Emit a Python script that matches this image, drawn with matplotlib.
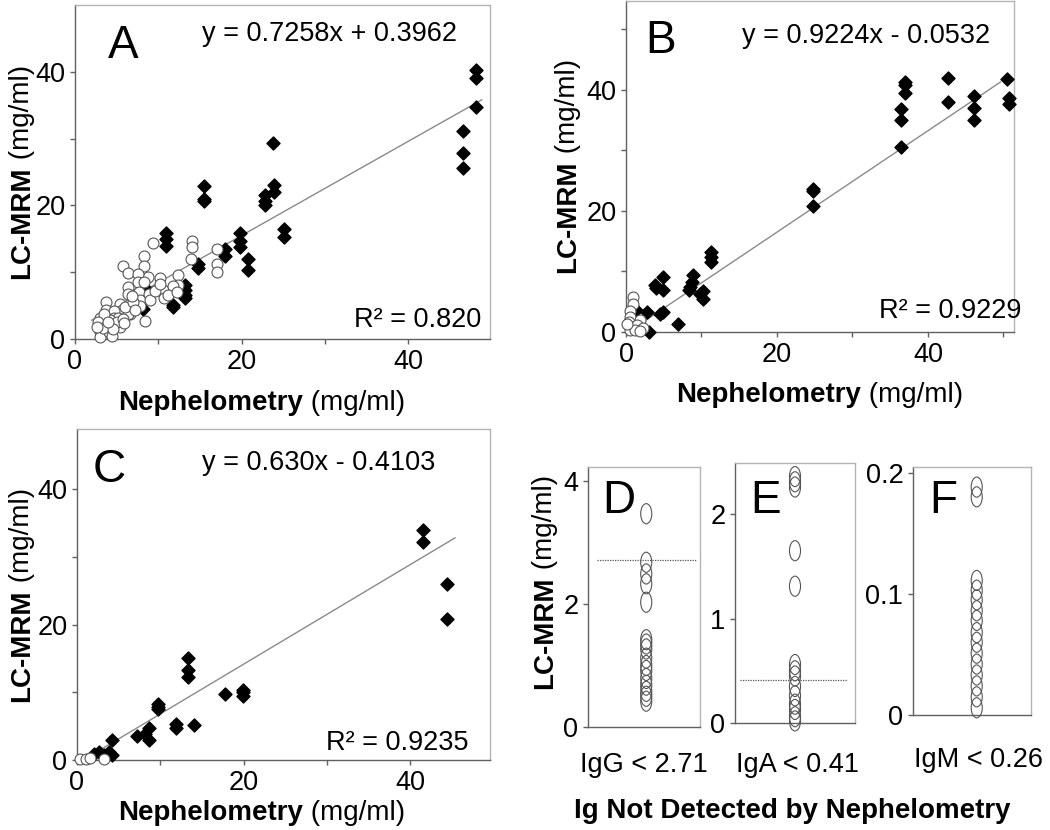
import numpy as np
import matplotlib.pyplot as plt
from matplotlib.markers import MarkerStyle
from matplotlib.transforms import Affine2D

plt.rcParams['font.family'] = ['Liberation Sans', 'DejaVu Sans']
plt.rcParams['font.size'] = 19

# ---- Panel A (IgG) ----
a_dia_x = [48.1, 48.1, 48.1, 46.6, 46.6, 46.6, 23.8, 23.9, 23.9, 22.8, 22.8, 22.8,
           15.5, 15.5, 15.5, 25.1, 25.1, 19.8, 19.8, 19.8, 20.7, 20.7, 18.0, 18.0,
           14.7, 14.7, 10.9, 10.9, 10.9, 13.2, 13.2, 13.2, 13.2, 11.7, 11.7, 8.6, 8.1]
a_dia_y = [40.3, 39.0, 34.7, 31.2, 27.8, 25.6, 29.4, 23.0, 22.0, 21.6, 20.7, 20.1,
           22.9, 21.0, 20.7, 16.5, 15.2, 15.9, 14.7, 13.8, 12.0, 10.4, 13.5, 12.4,
           11.3, 10.6, 15.8, 14.9, 13.9, 8.1, 7.3, 6.6, 6.1, 5.1, 4.8, 7.3, 4.5]
a_cir_x = [9.4, 14.0, 14.0, 13.9, 17.0, 17.0, 17.0, 8.3, 8.3, 5.7, 6.4, 12.4, 12.4,
           10.2, 8.8, 7.5, 7.5, 8.4, 6.4, 6.4, 7.7, 7.8, 7.8, 8.9, 9.0, 10.6, 10.7,
           11.8, 11.2, 3.7, 3.7, 5.4, 5.6, 6.6, 4.7, 4.7, 3.0, 3.2, 3.0, 3.0, 4.0,
           4.1, 5.2, 5.4, 6.4, 4.2, 5.0, 6.0, 7.0, 7.2, 3.5, 2.8, 4.4, 5.8, 9.6,
           10.2, 12.2, 8.3, 6.8, 3.4, 4.6, 3.9, 2.6, 5.9]
a_cir_y = [14.3, 14.7, 13.8, 12.0, 13.4, 11.3, 10.0, 12.5, 10.9, 10.9, 9.9, 9.6, 8.1,
           9.2, 9.3, 9.8, 8.6, 2.7, 7.8, 6.8, 7.1, 5.8, 4.9, 6.8, 5.8, 7.3, 6.2,
           8.0, 6.6, 5.6, 4.4, 5.3, 4.3, 3.8, 4.2, 3.1, 3.1, 2.1, 1.1, 0.3, 2.1,
           1.1, 3.1, 1.8, 3.8, 2.9, 2.6, 4.8, 5.5, 4.4, 3.8, 2.5, 0.5, 3.0, 7.2,
           8.3, 7.0, 8.6, 6.5, 1.6, 1.5, 2.6, 1.8, 2.4]
a_line = (0.705, 1.40)          # fitted line as drawn
a_eq = "y = 0.7258x + 0.3962"
a_r2 = "R² = 0.820"

# ---- Panel B (IgA) ----
b_dia_x = [42.7, 42.7, 50.5, 50.8, 50.8, 37.0, 37.0, 37.0, 36.4, 36.4, 36.4,
           46.1, 46.1, 46.1, 24.8, 24.8, 24.8, 11.2, 11.2, 11.2, 10.2, 10.2,
           8.9, 8.7, 8.5, 8.3, 4.9, 4.9, 3.8, 4.0, 4.5, 4.9, 2.8, 1.3, 6.9, 3.1, 9.8]
b_dia_y = [42.0, 38.0, 41.8, 38.6, 37.7, 41.3, 40.8, 39.5, 36.9, 35.0, 30.6,
           39.0, 37.1, 35.0, 23.7, 23.3, 20.8, 13.2, 12.4, 11.6, 6.8, 5.5,
           9.4, 8.3, 7.4, 6.9, 9.1, 7.0, 7.8, 7.3, 3.0, 3.3, 3.3, 3.6, 1.4, 0.0, 6.2]
b_cir_x = [0.9, 0.9, 0.5, 0.5, 0.4, 0.7, 0.5, 1.8, 1.4, 2.3, 1.2, 1.8, 0.1]
b_cir_y = [5.8, 4.7, 3.4, 2.5, 1.7, 0.9, 0.3, 2.0, 1.2, 0.6, 0.3, 0.2, 1.4]
b_line = (0.838, -0.26)
b_eq = "y = 0.9224x - 0.0532"
b_r2 = "R² = 0.9229"

# ---- Panel C (IgM) ----
c_dia_x = [41.6, 41.6, 44.4, 44.4, 13.3, 13.3, 13.3, 17.8, 19.9, 19.9, 19.9,
           9.7, 9.7, 9.7, 11.9, 11.9, 14.1, 7.2, 8.2, 8.7, 8.7, 4.2, 4.2,
           2.0, 2.7, 3.8, 3.2]
c_dia_y = [34.0, 32.2, 26.0, 20.8, 15.0, 13.3, 12.3, 9.8, 10.3, 10.0, 9.4,
           8.3, 7.9, 7.5, 5.3, 4.8, 5.1, 3.5, 3.9, 4.7, 3.0, 2.9, 0.7,
           0.9, 1.2, 1.2, 0.7]
c_cir_x = [0.36, 1.1, 1.6, 3.2]
c_cir_y = [0.2, 0.2, 0.3, 0.2]
c_line = (0.735, -0.55)
c_eq = "y = 0.630x - 0.4103"
c_r2 = "R² = 0.9235"

# ---- Panels D-F (not detected by nephelometry) ----
d_vals = [3.47, 2.68, 2.49, 2.33, 2.03, 1.42, 1.35, 1.27, 1.12, 1.0, 0.92,
          0.79, 0.68, 0.58, 0.5, 0.42]
e_vals = [2.36, 2.31, 2.26, 1.65, 1.31, 0.56, 0.50, 0.45, 0.35, 0.26, 0.18,
          0.13, 0.06, 0.02]
f_vals = [0.188, 0.180, 0.111, 0.103, 0.095, 0.086, 0.078, 0.068, 0.060,
          0.051, 0.042, 0.033, 0.024, 0.015, 0.006]
cutoffs = [2.71, 0.41, 0.26]
cut_labels = ["IgG < 2.71", "IgA < 0.41", "IgM < 0.26"]

W, H = 1050, 830
fig = plt.figure(figsize=(W / 100, H / 100), dpi=100)


def px_axes(l, t, r, b):
    return fig.add_axes([l / W, 1 - b / H, (r - l) / W, (b - t) / H])


def style(ax):
    for s in ['top', 'right']:
        ax.spines[s].set_color('#b4b4b4')
    for s in ['left', 'bottom']:
        ax.spines[s].set_color('#606060')
    for s in ax.spines.values():
        s.set_linewidth(1.0)
    ax.tick_params(direction='out', length=3.5, width=1, color='#606060',
                   labelsize=19.5, pad=3.5)


def scatter_panel(ax, dx, dy, cx, cy, line, eq, r2, letter, xmax, ymax,
                  line_x, letter_pos, eq_pos, r2_pos):
    ax.plot(line_x, [line[0] * v + line[1] for v in line_x], color='#8a8a8a', lw=1)
    ax.scatter(dx, dy, marker='D', s=44, color='black', zorder=3, clip_on=False)
    ax.scatter(cx, cy, marker='o', s=62, facecolor='white', edgecolor='#555555',
               linewidths=0.8, zorder=4, clip_on=False)
    ax.set_xlim(0, xmax)
    ax.set_ylim(0, ymax)
    ax.set_xticks([0, 10, 20, 30, 40] + ([50] if xmax > 50 else []))
    ax.set_xticklabels(['0', '', '20', '', '40'] + ([''] if xmax > 50 else []))
    yt = [0, 10, 20, 30, 40] + ([50] if ymax > 50 else [])
    ax.set_yticks(yt)
    ax.set_yticklabels(['0', '', '20', '', '40'] + ([''] if ymax > 50 else []))
    style(ax)
    ax.text(*letter_pos, letter, transform=ax.transAxes, fontsize=33, va='baseline')
    ax.text(*eq_pos, eq, transform=ax.transAxes, fontsize=19.5, ha='center', va='baseline')
    ax.text(*r2_pos, r2, transform=ax.transAxes, fontsize=19.5, ha='right', va='baseline')


axA = px_axes(75, 5, 490, 339)
scatter_panel(axA, a_dia_x, a_dia_y, a_cir_x, a_cir_y, a_line, a_eq, a_r2, 'A',
              49.8, 50, [2.0, 48.8], (0.08, 0.841), (0.614, 0.892), (0.98, 0.036))

axB = px_axes(626, 1, 1014, 332)
scatter_panel(axB, b_dia_x, b_dia_y, b_cir_x, b_cir_y, b_line, b_eq, b_r2, 'B',
              51.4, 54.7, [1.0, 49.6], (0.049, 0.843), (0.619, 0.874), (1.02, 0.042))

axC = px_axes(77, 429, 490, 760)
scatter_panel(axC, c_dia_x, c_dia_y, c_cir_x, c_cir_y, c_line, c_eq, c_r2, 'C',
              49.6, 48.9, [1.76, 45.4], (0.039, 0.84), (0.584, 0.876), (0.947, 0.03))

ell = MarkerStyle('o', transform=Affine2D().scale(0.55, 1.0))
small = [
    (px_axes(588, 467, 700, 727), d_vals, 4.23, [0, 2, 4], ['0', '2', '4'], 'D', (0.125, 0.823), (0.52, 0.08, 0.97)),
    (px_axes(735, 463, 855, 723), e_vals, 2.49, [0, 1, 2], ['0', '1', '2'], 'E', (0.125, 0.808), (0.5, 0.04, 0.93)),
    (px_axes(913, 467, 1031, 715), f_vals, 0.2046, [0, 0.1, 0.2], ['0', '0.1', '0.2'], 'F', (0.136, 0.815), (0.54, None, None)),
]
for i, (ax, vals, ymax, ticks, tlabels, letter, lpos, xinfo) in enumerate(small):
    ax.scatter([xinfo[0]] * len(vals), vals, marker=ell, s=210, facecolor='none',
               edgecolor='#555555', linewidths=0.8, zorder=3, clip_on=False)
    if xinfo[1] is not None:
        ax.axhline(cutoffs[i], xmin=xinfo[1], xmax=xinfo[2], color='#555555',
                   lw=0.9, ls=(0, (1, 1)))
    ax.set_xlim(0, 1)
    ax.set_ylim(0, ymax)
    ax.set_xticks([])
    ax.set_yticks(ticks)
    ax.set_yticklabels(tlabels)
    style(ax)
    ax.text(*lpos, letter, transform=ax.transAxes, fontsize=33, va='baseline')

renderer = fig.canvas.get_renderer()


def mixed_label(xc, yc, bold, normal, vertical=False, size=20):
    # xc, yc: pixel position measured from the top-left of the figure
    tb = fig.text(0, 0, bold, fontsize=size, fontweight='bold')
    tn = fig.text(0, 0, ' ' + normal, fontsize=size)
    wb = tb.get_window_extent(renderer).width
    wn = tn.get_window_extent(renderer).width
    total = wb + wn
    if not vertical:
        x0 = xc - total / 2
        tb.set_position((x0 / W, 1 - yc / H))
        tn.set_position(((x0 + wb) / W, 1 - yc / H))
        for t in (tb, tn):
            t.set_ha('left')
            t.set_va('baseline')
    else:
        y0 = yc + total / 2
        tb.set_position((xc / W, 1 - y0 / H))
        tn.set_position((xc / W, 1 - (y0 - wb) / H))
        for t in (tb, tn):
            t.set_rotation(90)
            t.set_ha('center')
            t.set_va('bottom')


mixed_label(262, 410, 'Nephelometry', '(mg/ml)')
mixed_label(22, 172, 'LC-MRM', '(mg/ml)', vertical=True)
mixed_label(820, 402, 'Nephelometry', '(mg/ml)')
mixed_label(568, 166, 'LC-MRM', '(mg/ml)', vertical=True)
mixed_label(262, 820, 'Nephelometry', '(mg/ml)')
mixed_label(22, 595, 'LC-MRM', '(mg/ml)', vertical=True)
mixed_label(545, 582, 'LC-MRM', '(mg/ml)', vertical=True)

for xc, yb, lab in zip([644, 798, 978], [772, 772, 767], cut_labels):
    fig.text(xc / W, 1 - yb / H, lab, fontsize=19.5, ha='center', va='baseline')
fig.text(792 / W, 1 - 818 / H, 'Ig Not Detected by Nephelometry', fontsize=20,
         fontweight='bold', ha='center', va='baseline')

fig.savefig('out.png', dpi=100)
